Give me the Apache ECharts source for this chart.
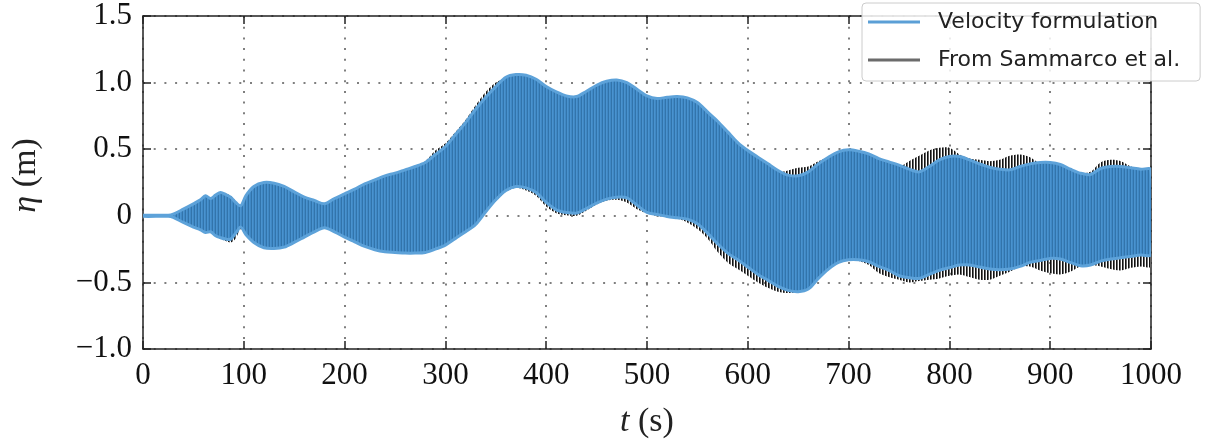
<!DOCTYPE html>
<html>
<head>
<meta charset="utf-8">
<script src="https://cdn.jsdelivr.net/npm/echarts@6/dist/echarts.min.js"></script>
<style>
  html, body { margin: 0; padding: 0; background: #fff; }
  #chart { width: 1214px; height: 446px; }
</style>
</head>
<body>
<div id="chart"></div>
<script>
// time samples (s)
const T = [0, 25, 30, 40, 50, 57, 62, 67, 72, 77, 82, 87, 92, 97, 102,
  110, 120, 130, 140, 150, 160, 170, 180, 190, 200,
  210, 220, 230, 240, 250, 260, 270, 280, 290, 300,
  310, 320, 330, 340, 350, 360, 370, 380, 390, 400,
  410, 420, 430, 440, 450, 460, 470, 480, 490, 500,
  510, 520, 530, 540, 550, 560, 570, 580, 590, 600,
  610, 620, 630, 640, 650, 660, 670, 680, 690, 700,
  710, 720, 730, 740, 750, 760, 770, 780, 790, 800,
  810, 820, 830, 840, 850, 860, 870, 880, 890, 900,
  910, 920, 930, 940, 950, 960, 970, 980, 990, 1000];

// Velocity formulation: upper / lower envelope of eta (m)
const velUpper = [0.004, 0.004, 0.012, 0.05, 0.09, 0.12, 0.15, 0.13, 0.155, 0.175, 0.16, 0.14, 0.10, 0.075, 0.15,
  0.22, 0.25, 0.245, 0.22, 0.18, 0.14, 0.115, 0.09, 0.13, 0.165,
  0.2, 0.24, 0.27, 0.3, 0.32, 0.345, 0.37, 0.4, 0.46, 0.52,
  0.61, 0.7, 0.8, 0.89, 0.97, 1.04, 1.06, 1.055, 1.025, 0.97,
  0.93, 0.9, 0.895, 0.935, 0.98, 1.01, 1.02, 1.0, 0.95, 0.9,
  0.88, 0.89, 0.895, 0.885, 0.85, 0.78, 0.71, 0.63, 0.55, 0.49,
  0.44, 0.39, 0.34, 0.305, 0.3, 0.33, 0.39, 0.44, 0.48, 0.495,
  0.485, 0.465, 0.43, 0.405, 0.38, 0.35, 0.33, 0.37, 0.42, 0.445,
  0.445, 0.42, 0.39, 0.365, 0.35, 0.345, 0.37, 0.39, 0.4, 0.4,
  0.385, 0.35, 0.32, 0.31, 0.355, 0.37, 0.37, 0.36, 0.35, 0.345];
const velLower = [-0.004, -0.004, -0.012, -0.05, -0.085, -0.105, -0.125, -0.12, -0.15, -0.165, -0.175, -0.175, -0.13, -0.085, -0.14,
  -0.2, -0.24, -0.245, -0.235, -0.2, -0.16, -0.12, -0.09, -0.12, -0.16,
  -0.195, -0.23, -0.255, -0.27, -0.275, -0.28, -0.28, -0.275, -0.25, -0.22,
  -0.17, -0.12, -0.065, 0.03, 0.12, 0.19, 0.22, 0.21, 0.175, 0.1,
  0.045, 0.025, 0.02, 0.055, 0.095, 0.125, 0.14, 0.135, 0.08, 0.025,
  0.01, -0.005, -0.015, -0.025, -0.06, -0.13, -0.21, -0.28, -0.33, -0.385,
  -0.44, -0.485, -0.53, -0.56, -0.57, -0.55, -0.47, -0.4, -0.35, -0.33,
  -0.33, -0.345, -0.38, -0.41, -0.45, -0.465, -0.47, -0.44, -0.41, -0.39,
  -0.37, -0.37, -0.385, -0.4, -0.405, -0.4, -0.38, -0.35, -0.335, -0.32,
  -0.325, -0.35, -0.375, -0.37, -0.34, -0.325, -0.315, -0.305, -0.295, -0.29];

// From Sammarco et al.: upper / lower envelope of eta (m)
const refUpper = [0.004, 0.004, 0.01, 0.048, 0.088, 0.118, 0.15, 0.13, 0.155, 0.18, 0.17, 0.15, 0.11, 0.08, 0.15,
  0.215, 0.245, 0.24, 0.22, 0.185, 0.145, 0.115, 0.09, 0.13, 0.165,
  0.2, 0.24, 0.27, 0.3, 0.32, 0.345, 0.375, 0.41, 0.49, 0.545,
  0.63, 0.72, 0.83, 0.93, 1.0, 1.035, 1.045, 1.03, 1.0, 0.95,
  0.91, 0.88, 0.875, 0.915, 0.96, 0.99, 1.0, 0.98, 0.93, 0.88,
  0.86, 0.87, 0.875, 0.865, 0.83, 0.76, 0.69, 0.6, 0.53, 0.47,
  0.42, 0.37, 0.33, 0.34, 0.36, 0.37, 0.41, 0.44, 0.47, 0.48,
  0.47, 0.45, 0.42, 0.4, 0.37, 0.41, 0.45, 0.49, 0.51, 0.51,
  0.46, 0.43, 0.42, 0.41, 0.42, 0.45, 0.46, 0.44, 0.39, 0.36,
  0.34, 0.33, 0.32, 0.33, 0.4, 0.42, 0.41, 0.37, 0.35, 0.34];
const refLower = [-0.004, -0.004, -0.01, -0.048, -0.083, -0.1, -0.12, -0.12, -0.15, -0.175, -0.19, -0.2, -0.17, -0.1, -0.14,
  -0.195, -0.235, -0.24, -0.23, -0.195, -0.155, -0.115, -0.09, -0.12, -0.155,
  -0.19, -0.225, -0.25, -0.265, -0.27, -0.275, -0.275, -0.27, -0.245, -0.215,
  -0.165, -0.115, -0.06, 0.03, 0.11, 0.18, 0.21, 0.19, 0.15, 0.07,
  0.02, 0.005, 0.0, 0.04, 0.085, 0.115, 0.12, 0.1, 0.05, 0.02,
  0.0, -0.01, -0.02, -0.05, -0.1, -0.17, -0.27, -0.35, -0.4, -0.45,
  -0.5, -0.54, -0.57, -0.58, -0.57, -0.54, -0.47, -0.4, -0.35, -0.33,
  -0.34, -0.37, -0.43, -0.46, -0.48, -0.5, -0.49, -0.48, -0.47, -0.45,
  -0.44, -0.46, -0.48, -0.48, -0.45, -0.42, -0.38, -0.38, -0.41, -0.43,
  -0.44, -0.42, -0.38, -0.37, -0.38, -0.4, -0.41, -0.39, -0.38, -0.38];

const seriesNames = ['Velocity formulation', 'From Sammarco et al.'];

function stripePattern(colors) {
  const c = document.createElement('canvas');
  c.width = colors.length; c.height = 4;
  const ctx = c.getContext('2d');
  colors.forEach((col, i) => { if (col) { ctx.fillStyle = col; ctx.fillRect(i, 0, 1, 4); } });
  return { image: c, repeat: 'repeat' };
}

const bluePattern = stripePattern(['#4a93cf', '#3f88c5', '#3274ab']);
const blackPattern = stripePattern(['#111111', '#6a6a6a', null]);

function band(name, up, lo, fill, stroke, strokeW, legendColor, z) {
  return {
    type: 'custom',
    name: name,
    coordinateSystem: 'cartesian2d',
    xAxisIndex: 0, yAxisIndex: 0,
    data: [[T[0], up[0]]],
    itemStyle: { color: legendColor },
    z: z,
    clip: true,
    silent: true,
    renderItem: function (params, api) {
      const pts = [];
      for (let i = 0; i < T.length; i++) pts.push(api.coord([T[i], up[i]]));
      for (let i = T.length - 1; i >= 0; i--) pts.push(api.coord([T[i], lo[i]]));
      return {
        type: 'polygon',
        shape: { points: pts, smooth: 0.3 },
        style: { fill: fill, stroke: stroke, lineWidth: strokeW, lineJoin: 'round' }
      };
    }
  };
}

const serif = 'Liberation Serif';
const chart = echarts.init(document.getElementById('chart'), null, { renderer: 'canvas' });

const tickStyle = { show: true, inside: true, length: 8, lineStyle: { color: '#222', width: 1.5 } };
const gridDots = { show: true, lineStyle: { color: '#555', width: 1.5, type: [2, 8.7] } };
const axisLineStyle = { show: true, onZero: false, lineStyle: { color: '#222', width: 1.5 } };

chart.setOption({
  animation: false,
  backgroundColor: '#ffffff',
  grid: { left: 143, right: 63, top: 16, bottom: 97, show: false },
  legend: {
    orient: 'vertical',
    left: 862, top: 3,
    padding: [8, 20, 10, 6],
    itemGap: 16,
    itemWidth: 52, itemHeight: 3,
    backgroundColor: 'rgba(255,255,255,0.85)',
    borderColor: '#cccccc', borderWidth: 1, borderRadius: 4,
    textStyle: { fontFamily: 'DejaVu Sans', fontSize: 22, color: '#222', padding: [0, 0, 0, 13] },
    data: [
      { name: seriesNames[0], icon: 'rect', itemStyle: { color: '#5b9fd6' } },
      { name: seriesNames[1], icon: 'rect', itemStyle: { color: '#6b6b6b' } }
    ]
  },
  xAxis: [{
    type: 'value', min: 0, max: 1000, interval: 100,
    position: 'bottom',
    name: '{i|t} (s)', nameLocation: 'middle', nameGap: 56,
    nameTextStyle: { fontFamily: serif, fontSize: 34, color: '#222', rich: { i: { fontFamily: serif, fontStyle: 'italic', fontSize: 34, color: '#222' } } },
    axisLine: axisLineStyle,
    axisTick: tickStyle,
    axisLabel: { fontFamily: serif, fontSize: 31, color: '#111', margin: 11, formatter: function (v) { return String(v); } },
    splitLine: gridDots
  }, {
    type: 'value', min: 0, max: 1000, interval: 100,
    position: 'top',
    axisLine: axisLineStyle,
    axisTick: tickStyle,
    axisLabel: { show: false },
    splitLine: { show: false }
  }],
  yAxis: [{
    type: 'value', min: -1, max: 1.5, interval: 0.5,
    position: 'left',
    name: '{i|η} (m)', nameLocation: 'middle', nameGap: 100, nameRotate: 90,
    nameTextStyle: { fontFamily: serif, fontSize: 34, color: '#222', padding: [0, 0, 0, 14], rich: { i: { fontFamily: serif, fontStyle: 'italic', fontSize: 34, color: '#222' } } },
    axisLine: axisLineStyle,
    axisTick: tickStyle,
    axisLabel: {
      fontFamily: serif, fontSize: 31, color: '#111', margin: 11,
      formatter: function (v) {
        if (Math.abs(v) < 1e-9) return '0';
        const s = Math.abs(v).toFixed(1);
        return (v < 0 ? '\u2212' : '') + s;
      }
    },
    splitLine: gridDots
  }, {
    type: 'value', min: -1, max: 1.5, interval: 0.5,
    position: 'right',
    axisLine: axisLineStyle,
    axisTick: tickStyle,
    axisLabel: { show: false },
    splitLine: { show: false }
  }],
  series: [
    band(seriesNames[1], refUpper, refLower, blackPattern, null, 0, '#6b6b6b', 2),
    band(seriesNames[0], velUpper, velLower, bluePattern, '#5da2d9', 3, '#5b9fd6', 3)
  ]
});
</script>
</body>
</html>
